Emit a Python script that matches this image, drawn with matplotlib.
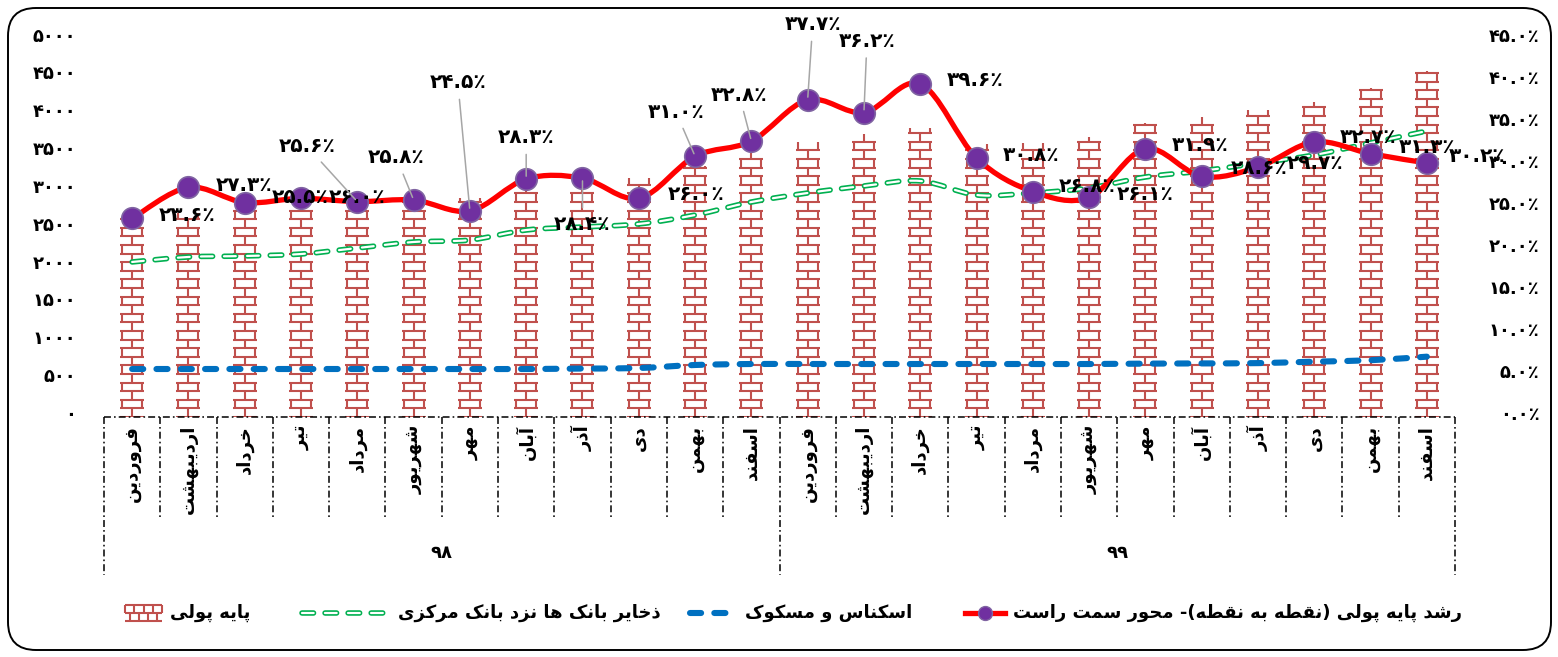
import numpy as np
import matplotlib
matplotlib.use("Agg")
import matplotlib.pyplot as plt
from matplotlib.path import Path
from matplotlib.patches import PathPatch, FancyBboxPatch, Rectangle
from matplotlib.collections import LineCollection
from matplotlib.lines import Line2D
from matplotlib import transforms

plt.rcParams['font.family'] = ['DejaVu Sans']
plt.rcParams['font.weight'] = 'bold'
plt.rcParams['lines.scale_dashes'] = False

# ---- data ----
months = ["فروردین", "اردیبهشت", "خرداد", "تیر", "مرداد", "شهریور",
          "مهر", "آبان", "آذر", "دی", "بهمن", "اسفند"]
years = ["۹۸", "۹۹"]

# پایه پولی (left axis)
monetary_base = [2620, 2700, 2735, 2760, 2800, 2850, 2893, 3025, 3000, 3157, 3316, 3488,
                 3633, 3738, 3818, 3600, 3620, 3700, 3884, 3963, 4055, 4161, 4346, 4571]
# ذخایر بانک ها نزد بانک مرکزی (left axis)
reserves = [2048, 2114, 2127, 2153, 2232, 2312, 2338, 2470, 2510, 2550, 2668, 2840,
            2959, 3052, 3118, 2933, 2959, 3025, 3170, 3250, 3355, 3461, 3620, 3778]
# اسکناس و مسکوک (left axis)
currency = [634, 634, 634, 634, 634, 634, 634, 634, 640, 647, 687, 700,
            700, 700, 700, 700, 700, 700, 705, 708, 712, 731, 750, 797]
# رشد پایه پولی (right axis, %)
growth = [23.6, 27.3, 25.5, 26.0, 25.6, 25.8, 24.5, 28.3, 28.4, 26.0, 31.0, 32.8,
          37.7, 36.2, 39.6, 30.8, 26.8, 26.1, 31.9, 28.6, 29.7, 32.7, 31.3, 30.2]

left_ticks = list(range(0, 5001, 500))
right_ticks = [0, 5, 10, 15, 20, 25, 30, 35, 40, 45]

legend_labels = ["رشد پایه پولی (نقطه به نقطه)- محور سمت راست",
                 "اسکناس و مسکوک",
                 "ذخایر بانک ها نزد بانک مرکزی",
                 "پایه پولی"]

# ---- minimal persian shaping (matplotlib has no complex text layout) ----
FORMS = {
    'ا': (0xFE8D, 0xFE8E), 'آ': (0xFE81, 0xFE82), 'د': (0xFEA9, 0xFEAA),
    'ذ': (0xFEAB, 0xFEAC), 'ر': (0xFEAD, 0xFEAE), 'ز': (0xFEAF, 0xFEB0),
    'و': (0xFEED, 0xFEEE),
    'ب': (0xFE8F, 0xFE90, 0xFE91, 0xFE92), 'پ': (0xFB56, 0xFB57, 0xFB58, 0xFB59),
    'ت': (0xFE95, 0xFE96, 0xFE97, 0xFE98), 'ج': (0xFE9D, 0xFE9E, 0xFE9F, 0xFEA0),
    'ح': (0xFEA1, 0xFEA2, 0xFEA3, 0xFEA4), 'خ': (0xFEA5, 0xFEA6, 0xFEA7, 0xFEA8),
    'س': (0xFEB1, 0xFEB2, 0xFEB3, 0xFEB4), 'ش': (0xFEB5, 0xFEB6, 0xFEB7, 0xFEB8),
    'ط': (0xFEC1, 0xFEC2, 0xFEC3, 0xFEC4), 'ف': (0xFED1, 0xFED2, 0xFED3, 0xFED4),
    'ق': (0xFED5, 0xFED6, 0xFED7, 0xFED8), 'ک': (0xFB8E, 0xFB8F, 0xFB90, 0xFB91),
    'ل': (0xFEDD, 0xFEDE, 0xFEDF, 0xFEE0), 'م': (0xFEE1, 0xFEE2, 0xFEE3, 0xFEE4),
    'ن': (0xFEE5, 0xFEE6, 0xFEE7, 0xFEE8), 'ه': (0xFEE9, 0xFEEA, 0xFEEB, 0xFEEC),
    'ی': (0xFBFC, 0xFBFD, 0xFBFE, 0xFBFF),
}


def fa(text):
    out = []
    for k, ch in enumerate(text):
        f = FORMS.get(ch)
        if f is None:
            out.append(ch)
            continue
        prev = text[k - 1] if k > 0 else ''
        nxt = text[k + 1] if k + 1 < len(text) else ''
        jp = prev in FORMS and len(FORMS[prev]) == 4
        jn = len(f) == 4 and nxt in FORMS
        if jp and jn:
            c = f[3]
        elif jn:
            c = f[2]
        elif jp:
            c = f[1]
        else:
            c = f[0]
        out.append(chr(c))
    swap = {'(': ')', ')': '('}
    return ''.join(swap.get(c, c) for c in reversed(out))


def fa_num(s):
    return s.translate(str.maketrans('0123456789%', '۰۱۲۳۴۵۶۷۸۹٪'))


# ---- layout ----
W, H = 1558, 657
fig = plt.figure(figsize=(W / 100, H / 100), dpi=100)
ax_l, ax_r, ax_b, ax_t = 104, 1455, 417, 38.5
ax = fig.add_axes([ax_l / W, (H - ax_b) / H, (ax_r - ax_l) / W, (ax_b - ax_t) / H])
ax2 = ax.twinx()
ax.set_zorder(1)
ax2.set_zorder(2)
ax.patch.set_visible(False)
ax2.patch.set_visible(False)

n = len(growth)
x = np.arange(n)
ax.set_xlim(-0.5, n - 0.5)
ax.set_ylim(0, 5000)
ax2.set_ylim(0, 45)

for a in (ax, ax2):
    for s in a.spines.values():
        s.set_visible(False)
    a.tick_params(length=0)
ax.set_xticks([])

px_x = (ax_r - ax_l) / n          # pixels per category
px_y = (ax_b - ax_t) / 5000.0     # pixels per left-axis unit

# brick-pattern bars
brick_color = '#C0504D'
bar_half = 12 / px_x
brick_off = 10 / px_x
row = 8.6 / px_y
segs = []
for i, h in enumerate(monetary_base):
    ax.add_patch(Rectangle((i - bar_half, 0), 2 * bar_half, h, facecolor='white',
                           edgecolor='none', zorder=1))
    k = 0
    while k * row < h:
        y0 = k * row
        y1 = min((k + 1) * row, h)
        segs.append([(i - bar_half, y0), (i + bar_half, y0)])
        if k % 2 == 0:
            segs.append([(i, y0), (i, y1)])
        else:
            segs.append([(i - brick_off, y0), (i - brick_off, y1)])
            segs.append([(i + brick_off, y0), (i + brick_off, y1)])
        k += 1
ax.add_collection(LineCollection(segs, colors=brick_color, linewidths=1.5, zorder=2,
                                 capstyle='butt'))


def smooth_path(xs, ys):
    pts = np.column_stack([xs, ys]).astype(float)
    verts = [pts[0]]
    codes = [Path.MOVETO]
    for i in range(len(pts) - 1):
        p0 = pts[i - 1] if i > 0 else pts[i]
        p1, p2 = pts[i], pts[i + 1]
        p3 = pts[i + 2] if i + 2 < len(pts) else pts[i + 1]
        verts += [p1 + (p2 - p0) / 6, p2 - (p3 - p1) / 6, p2]
        codes += [Path.CURVE4] * 3
    return Path(verts, codes)


# reserves: hollow green dashes (green outline, white core)
green = '#00B050'
g_outer = dict(lw=4.0, linestyle=(0, (8.3, 8.3)))
g_inner = dict(lw=1.6, linestyle=(0.1, (8.5, 8.1)))
gpath = smooth_path(x, reserves)
ax.add_patch(PathPatch(gpath, fill=False, edgecolor=green, capstyle='round', zorder=3,
                       **g_outer))
ax.add_patch(PathPatch(gpath, fill=False, edgecolor='white', capstyle='round',
                       zorder=3.1, **g_inner))

# currency: blue dashes
blue = '#0070C0'
b_style = dict(lw=4.4, linestyle=(0, (8.0, 9.5)))
ax.add_patch(PathPatch(smooth_path(x, currency), fill=False, edgecolor=blue,
                       capstyle='round', zorder=3, **b_style))

# growth: smooth red line with purple markers
ax2.add_patch(PathPatch(smooth_path(x, growth), fill=False, edgecolor='#FF0000',
                        lw=3.8, capstyle='round', zorder=4))
ax2.plot(x, growth, linestyle='none', marker='o', markersize=15.5,
         markerfacecolor='#7030A0', markeredgecolor='#8064A2', markeredgewidth=1.2,
         zorder=5)

# data labels: (dx, dy) offsets in pixels from the marker
label_offsets = [(55, 3), (56, 2), (55, 5), (56, 1), (-50, 55), (-17, 42), (-12, 128),
                 (0, 41), (0, -46), (57, 4), (-19, 44), (-12, 46), (5, 75), (3, 71),
                 (55, 3), (55, 2), (54, 5), (56, 3), (55, 3), (57, 8), (57, 4),
                 (54, 4), (57, 6), (50, 6)]
leaders = {4, 5, 6, 7, 8, 10, 11, 12, 13}
for i, v in enumerate(growth):
    dx, dy = label_offsets[i]
    kw = {}
    if i in leaders:
        kw['arrowprops'] = dict(arrowstyle='-', color='#A6A6A6', lw=1.1,
                                shrinkA=3, shrinkB=2)
    ax2.annotate(fa_num('%.1f%%' % v), xy=(i, v), xytext=(dx * 0.72, dy * 0.72),
                 textcoords='offset points', ha='center', va='center',
                 fontsize=14.5, fontweight='bold', color='black', zorder=6, **kw)

# tick labels
ax.set_yticks(left_ticks)
ax.set_yticklabels([fa_num(str(t)) for t in left_ticks], fontsize=13, fontweight='bold')
ax.tick_params(axis='y', pad=20)
ax2.set_yticks(right_ticks)
ax2.set_yticklabels([fa_num('%.1f%%' % t) for t in right_ticks], fontsize=13,
                    fontweight='bold')
ax2.tick_params(axis='y', pad=61)
for lab in ax2.get_yticklabels():
    lab.set_horizontalalignment('right')
lift = transforms.ScaledTranslation(0, 4 / 100, fig.dpi_scale_trans)
for lab in ax.get_yticklabels() + ax2.get_yticklabels():
    lab.set_transform(lab.get_transform() + lift)

# two-level category axis
trans = transforms.blended_transform_factory(ax.transData, ax.transAxes)
ax_h = ax_b - ax_t
dash = (0, (5, 2.2, 1.2, 2.2))
ax.plot([-0.5, n - 0.5], [0, 0], transform=trans, color='black', lw=1.1,
        linestyle=dash, clip_on=False)
for k in range(n + 1):
    depth = 158 if k % 12 == 0 else 103
    ax.plot([k - 0.5, k - 0.5], [0, -depth / ax_h], transform=trans, color='black',
            lw=1.1, linestyle=dash, clip_on=False)
for i in range(n):
    ax.text(i, -8 / ax_h, fa(months[i % 12]), transform=trans, rotation=90,
            ha='center', va='top', fontsize=13, fontweight='bold')
for j, yr in enumerate(years):
    ax.text(j * 12 + 5.5, -136 / ax_h, yr, transform=trans, ha='center', va='center',
            fontsize=13, fontweight='bold')

# legend, drawn right to left
ly = (H - 613) / H
fx = lambda px: px / W
fy = lambda px: (H - px) / H
fig.add_artist(Line2D([fx(965), fx(1005)], [ly, ly], color='#FF0000', lw=3.8,
                      transform=fig.transFigure))
fig.add_artist(Line2D([fx(985)], [ly], marker='o', markersize=10,
                      markerfacecolor='#7030A0', markeredgecolor='#8064A2',
                      transform=fig.transFigure))
fig.text(fx(1013), ly, fa(legend_labels[0]), ha='left', va='center', fontsize=13,
         fontweight='bold')
fig.add_artist(Line2D([fx(690), fx(735)], [ly, ly], color=blue, lw=b_style['lw'],
                      linestyle=b_style['linestyle'], dash_capstyle='round',
                      transform=fig.transFigure))
fig.text(fx(745), ly, fa(legend_labels[1]), ha='left', va='center', fontsize=13,
         fontweight='bold')
fig.add_artist(Line2D([fx(302), fx(385)], [ly, ly], color=green, lw=g_outer['lw'],
                      linestyle=g_outer['linestyle'], dash_capstyle='round',
                      transform=fig.transFigure))
fig.add_artist(Line2D([fx(302), fx(385)], [ly, ly], color='white', lw=g_inner['lw'],
                      linestyle=g_inner['linestyle'], dash_capstyle='round',
                      transform=fig.transFigure))
fig.text(fx(398), ly, fa(legend_labels[2]), ha='left', va='center', fontsize=13,
         fontweight='bold')
# brick swatch
bx0, bx1, by0, by1 = 125, 162, 605, 621
sw = [[(fx(bx0), fy(by0)), (fx(bx1), fy(by0))],
      [(fx(bx0), fy((by0 + by1) / 2)), (fx(bx1), fy((by0 + by1) / 2))],
      [(fx(bx0), fy(by1)), (fx(bx1), fy(by1))]]
for xx in np.arange(bx0, bx1 + 1, 9.25):
    sw.append([(fx(xx), fy(by0)), (fx(xx), fy((by0 + by1) / 2))])
for xx in np.arange(bx0 + 4.6, bx1, 9.25):
    sw.append([(fx(xx), fy((by0 + by1) / 2)), (fx(xx), fy(by1))])
fig.add_artist(LineCollection(sw, colors=brick_color, linewidths=1.5,
                              transform=fig.transFigure))
fig.text(fx(170), ly, fa(legend_labels[3]), ha='left', va='center', fontsize=13,
         fontweight='bold')

# rounded frame
fig.add_artist(FancyBboxPatch((8, 7), 1543, 642,
                              boxstyle='round,pad=0,rounding_size=28',
                              transform=transforms.IdentityTransform(),
                              fill=False, edgecolor='black', lw=1.4))

fig.savefig('out.png', dpi=100)
